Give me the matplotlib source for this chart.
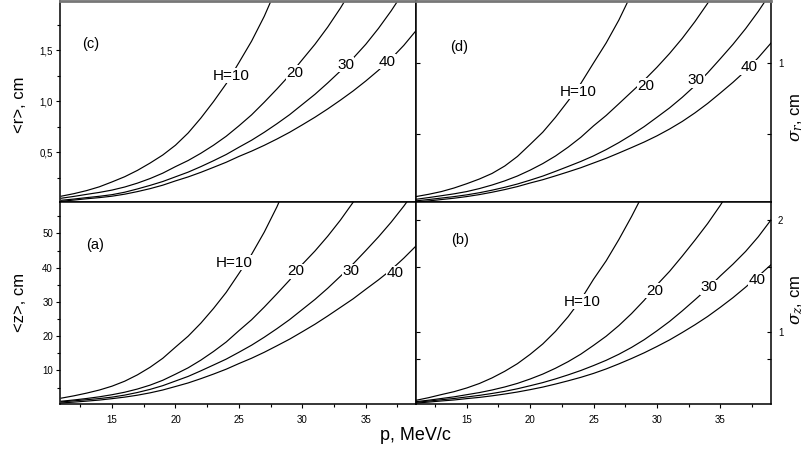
import matplotlib
matplotlib.use("Agg")
import matplotlib.pyplot as plt
from matplotlib.ticker import FixedLocator, FuncFormatter

plt.rcParams['font.family'] = ['Liberation Sans', 'DejaVu Sans']
plt.rcParams['mathtext.fontset'] = 'dejavuserif'

# ---------------- data ----------------
p_vals = [11, 12, 13, 14, 15, 16, 17, 18, 19, 20, 21, 22, 23, 24, 25,
          26, 27, 28, 29, 30, 31, 32, 33, 34, 35, 36, 37, 38, 39]
curve_names = ["H=10", "20", "30", "40"]

# (a) <z>, cm
z10 = [1.9, 2.58, 3.37, 4.27, 5.4, 6.85, 8.70, 10.92, 13.54, 16.8, 20.0, 23.8, 28.1,
       32.8, 38.3, 43.9, 50.4, 57.8, 66.3]
z20 = [1.0, 1.37, 1.80, 2.29, 2.9, 3.63, 4.56, 5.70, 7.12, 8.9, 10.76, 13.0, 15.53,
       18.3, 21.6, 24.8, 28.5, 32.4, 36.4, 41.0, 44.9, 49.2, 53.9, 59.1, 64.7]
z30 = [0.8, 1.11, 1.44, 1.78, 2.2, 2.79, 3.55, 4.46, 5.55, 6.9, 8.25, 9.88, 11.58,
       13.3, 15.3, 17.37, 19.7, 22.2, 24.85, 27.8, 30.75, 34.0, 37.5, 41.1, 45.0,
       49.0, 53.3, 58.0, 63.1]
z40 = [0.5, 0.74, 1.03, 1.34, 1.75, 2.20, 2.76, 3.45, 4.28, 5.3, 6.34, 7.59, 8.93,
       10.36, 12.0, 13.56, 15.3, 17.2, 19.14, 21.3, 23.5, 25.9, 28.4, 30.9, 33.7,
       36.45, 39.4, 42.8, 46.5]

# (c) <r>, cm
r10 = [0.07, 0.095, 0.125, 0.162, 0.21, 0.261, 0.323, 0.395, 0.474, 0.57, 0.690,
       0.836, 0.998, 1.173, 1.38, 1.591, 1.835, 2.12]
r20 = [0.05, 0.068, 0.088, 0.107, 0.13, 0.160, 0.198, 0.243, 0.296, 0.36, 0.420,
       0.491, 0.570, 0.658, 0.76, 0.868, 0.992, 1.122, 1.258, 1.41, 1.561, 1.729,
       1.915, 2.12]
r30 = [0.03, 0.042, 0.056, 0.069, 0.085, 0.109, 0.141, 0.176, 0.214, 0.26, 0.306,
       0.360, 0.418, 0.479, 0.55, 0.619, 0.697, 0.781, 0.870, 0.97, 1.070, 1.181,
       1.298, 1.423, 1.56, 1.716, 1.888, 2.077]
r40 = [0.02, 0.032, 0.0447, 0.056, 0.07, 0.0897, 0.115, 0.144, 0.178, 0.22, 0.259,
       0.304, 0.353, 0.403, 0.46, 0.512, 0.569, 0.631, 0.697, 0.77, 0.845, 0.926,
       1.012, 1.102, 1.20, 1.305, 1.419, 1.550, 1.70]

# (d) sigma_r, cm
sr10 = [0.065, 0.081, 0.100, 0.125, 0.155, 0.188, 0.227, 0.279, 0.346, 0.43, 0.516,
        0.620, 0.735, 0.857, 1.0, 1.141, 1.301, 1.485]
sr20 = [0.046, 0.058, 0.0709, 0.0842, 0.10, 0.121, 0.146, 0.175, 0.209, 0.25, 0.296,
        0.349, 0.411, 0.480, 0.56, 0.633, 0.715, 0.798, 0.880, 0.97, 1.067, 1.173,
        1.290, 1.418, 1.56]
sr30 = [0.035, 0.0444, 0.0545, 0.0648, 0.077, 0.0919, 0.1098, 0.130, 0.153, 0.18,
        0.2085, 0.2416, 0.276, 0.311, 0.35, 0.394, 0.443, 0.497, 0.555, 0.62, 0.686,
        0.760, 0.841, 0.931, 1.03, 1.131, 1.241, 1.362, 1.495]
sr40 = [0.026, 0.0347, 0.0441, 0.0535, 0.065, 0.0788, 0.0954, 0.114, 0.135, 0.16,
        0.183, 0.210, 0.238, 0.267, 0.30, 0.333, 0.370, 0.408, 0.447, 0.49, 0.538,
        0.591, 0.651, 0.717, 0.79, 0.865, 0.946, 1.038, 1.14]

# (b) sigma_z, cm
sz10 = [0.39, 0.4135, 0.441, 0.467, 0.50, 0.540, 0.590, 0.649, 0.717, 0.80, 0.893,
        1.005, 1.136, 1.288, 1.47, 1.635, 1.825, 2.03, 2.25]
sz20 = [0.378, 0.391, 0.406, 0.421, 0.44, 0.459, 0.482, 0.509, 0.541, 0.58, 0.624,
        0.676, 0.735, 0.802, 0.88, 0.962, 1.057, 1.164, 1.283, 1.42, 1.541, 1.677,
        1.819, 1.967, 2.13, 2.31]
sz30 = [0.372, 0.383, 0.395, 0.406, 0.42, 0.434, 0.451, 0.470, 0.493, 0.52, 0.548,
        0.581, 0.617, 0.656, 0.70, 0.747, 0.801, 0.862, 0.931, 1.01, 1.094, 1.188,
        1.287, 1.388, 1.50, 1.605, 1.719, 1.85, 2.00]
sz40 = [0.365, 0.374, 0.384, 0.393, 0.405, 0.416, 0.430, 0.446, 0.464, 0.485, 0.508,
        0.535, 0.564, 0.595, 0.63, 0.670, 0.715, 0.763, 0.814, 0.87, 0.929, 0.995,
        1.064, 1.138, 1.22, 1.306, 1.400, 1.498, 1.60]

# label anchor points (p, value)
lab_a = [(24.6, 41.4), (29.5, 38.9), (33.8, 38.9), (37.3, 38.4)]
lab_c = [(24.4, 1.25), (29.4, 1.28), (33.4, 1.36), (36.7, 1.39)]
lab_d = [(23.8, 0.80), (29.1, 0.84), (33.1, 0.88), (37.3, 0.97)]
lab_b = [(24.1, 1.27), (29.8, 1.37), (34.1, 1.40), (37.9, 1.46)]
panel_tags = {"a": (13.7, 46.7), "b": (14.5, 1.82), "c": (13.3, 1.56), "d": (14.4, 1.11)}

# ---------------- figure ----------------
W, H = 809, 455
fig = plt.figure(figsize=(W / 100, H / 100), dpi=100)

def rect(x0, y0, x1, y1):
    return [x0 / W, 1 - y1 / H, (x1 - x0) / W, (y1 - y0) / H]

ax_c = fig.add_axes(rect(60, 0.5, 416, 202))
ax_d = fig.add_axes(rect(416, 0.5, 771, 202))
ax_a = fig.add_axes(rect(60, 202, 416, 404))
ax_b = fig.add_axes(rect(416, 202, 771, 404))

lw = 0.85

def draw(ax, series, labs, tag):
    for vv, name, (lx, ly) in zip(series, curve_names, labs):
        ax.plot(p_vals[:len(vv)], vv, color='black', lw=lw, zorder=2)
        ax.text(lx, ly, name, fontsize=11, ha='center', va='center', zorder=4,
                bbox=dict(facecolor='white', edgecolor='none', pad=0.3))
    tx, ty = panel_tags[tag]
    ax.text(tx, ty, "(%s)" % tag, fontsize=10.5, ha='center', va='center')
    for s in ax.spines.values():
        s.set_linewidth(1.1)
        s.set_color('black')

draw(ax_c, [r10, r20, r30, r40], lab_c, "c")
draw(ax_d, [sr10, sr20, sr30, sr40], lab_d, "d")
draw(ax_a, [z10, z20, z30, z40], lab_a, "a")
draw(ax_b, [sz10, sz20, sz30, sz40], lab_b, "b")

for ax in (ax_c, ax_a):
    ax.set_xlim(10.9, 38.96)
for ax in (ax_d, ax_b):
    ax.set_xlim(11, 39)

ax_c.set_ylim(0.013, 1.99)
ax_a.set_ylim(0.19, 59.2)
ax_d.set_ylim(0.027, 1.438)
ax_b.set_ylim(0.357, 2.16)

for ax in (ax_c, ax_d):
    ax.spines['top'].set_color('#777777')
    ax.spines['top'].set_linewidth(2)

# x ticks
for ax in (ax_a, ax_b):
    ax.xaxis.set_major_locator(FixedLocator([15, 20, 25, 30, 35]))
    ax.xaxis.set_minor_locator(FixedLocator([12.5, 17.5, 22.5, 27.5, 32.5, 37.5]))
    ax.tick_params(axis='x', which='major', direction='out', length=3, width=0.8,
                   labelsize=7, pad=5)
    ax.tick_params(axis='x', which='minor', direction='out', length=2, width=0.8)
for ax in (ax_c, ax_d):
    ax.tick_params(axis='x', which='both', bottom=False, labelbottom=False)

# left y axes
ax_c.yaxis.set_major_locator(FixedLocator([0.5, 1.0, 1.5]))
ax_c.yaxis.set_minor_locator(FixedLocator([0.25, 0.75, 1.25, 1.75]))
ax_c.yaxis.set_major_formatter(FuncFormatter(lambda v, pos: ("%.1f" % v).replace('.', ',')))
ax_a.yaxis.set_major_locator(FixedLocator([10, 20, 30, 40, 50]))
ax_a.yaxis.set_minor_locator(FixedLocator([5, 15, 25, 35, 45, 55]))
for ax in (ax_c, ax_a):
    ax.tick_params(axis='y', which='major', direction='out', length=3, width=0.8,
                   labelsize=7, pad=2)
    ax.tick_params(axis='y', which='minor', direction='out', length=2, width=0.8)

# right y axes
ax_d.yaxis.set_major_locator(FixedLocator([1]))
ax_d.yaxis.set_minor_locator(FixedLocator([0.5]))
ax_b.yaxis.set_major_locator(FixedLocator([1, 2]))
ax_b.yaxis.set_minor_locator(FixedLocator([0.76, 1.58]))
for ax in (ax_d, ax_b):
    ax.yaxis.tick_right()
    ax.tick_params(axis='y', which='both', direction='in', left=True, right=True,
                   labelleft=False, labelright=True, labelsize=7, pad=5,
                   length=3, width=0.8)

# axis titles
fig.text(20 / W, 1 - 105 / H, "<r>, cm", rotation=90, fontsize=12, ha='center', va='center')
fig.text(20 / W, 1 - 302 / H, "<z>, cm", rotation=90, fontsize=12, ha='center', va='center')
fig.text(797 / W, 1 - 117 / H, r"$\sigma_r$, cm", rotation=90, fontsize=12, ha='center', va='center')
fig.text(797 / W, 1 - 300 / H, r"$\sigma_z$, cm", rotation=90, fontsize=12, ha='center', va='center')
fig.text(415 / W, 1 - 436 / H, "p, MeV/c", fontsize=13, ha='center', va='center')

fig.savefig("out.png", dpi=100)
